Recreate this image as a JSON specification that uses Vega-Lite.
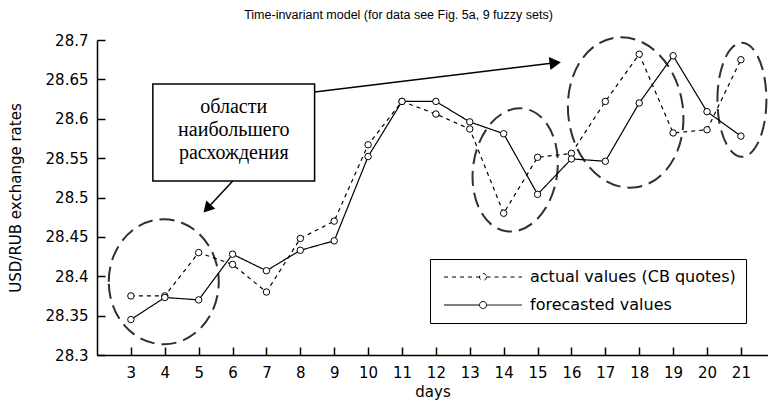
{
  "$schema": "https://vega.github.io/schema/vega-lite/v6.json",
  "width": 671,
  "height": 315,
  "autosize": {"type": "none"},
  "padding": {"left": 97, "top": 40, "right": 0, "bottom": 52},
  "background": "white",
  "title": {
    "text": "Time-invariant model (for data see Fig. 5a, 9 fuzzy sets)",
    "font": "Liberation Sans",
    "fontSize": 12.5,
    "fontWeight": "normal",
    "color": "black",
    "anchor": "middle",
    "dx": -34,
    "baseline": "alphabetic",
    "offset": 2
  },
  "config": {
    "view": {"stroke": null},
    "axis": {
      "grid": false,
      "domainColor": "black",
      "domainWidth": 1.5,
      "tickColor": "black",
      "tickWidth": 1.5,
      "tickSize": -8,
      "labelFont": "DejaVu Sans",
      "labelFontSize": 15,
      "labelColor": "black",
      "titleFont": "DejaVu Sans",
      "titleFontSize": 15,
      "titleFontWeight": "normal",
      "titleColor": "black"
    }
  },
  "datasets": {
    "rates": [
      {"day": 3, "series": "actual values (CB quotes)", "value": 28.375},
      {"day": 4, "series": "actual values (CB quotes)", "value": 28.375},
      {"day": 5, "series": "actual values (CB quotes)", "value": 28.43},
      {"day": 6, "series": "actual values (CB quotes)", "value": 28.415},
      {"day": 7, "series": "actual values (CB quotes)", "value": 28.38},
      {"day": 8, "series": "actual values (CB quotes)", "value": 28.448},
      {"day": 9, "series": "actual values (CB quotes)", "value": 28.47},
      {"day": 10, "series": "actual values (CB quotes)", "value": 28.567},
      {"day": 11, "series": "actual values (CB quotes)", "value": 28.622},
      {"day": 12, "series": "actual values (CB quotes)", "value": 28.606},
      {"day": 13, "series": "actual values (CB quotes)", "value": 28.587},
      {"day": 14, "series": "actual values (CB quotes)", "value": 28.48},
      {"day": 15, "series": "actual values (CB quotes)", "value": 28.551},
      {"day": 16, "series": "actual values (CB quotes)", "value": 28.556},
      {"day": 17, "series": "actual values (CB quotes)", "value": 28.622},
      {"day": 18, "series": "actual values (CB quotes)", "value": 28.682},
      {"day": 19, "series": "actual values (CB quotes)", "value": 28.582},
      {"day": 20, "series": "actual values (CB quotes)", "value": 28.586},
      {"day": 21, "series": "actual values (CB quotes)", "value": 28.675},
      {"day": 3, "series": "forecasted values", "value": 28.345},
      {"day": 4, "series": "forecasted values", "value": 28.373},
      {"day": 5, "series": "forecasted values", "value": 28.37},
      {"day": 6, "series": "forecasted values", "value": 28.428},
      {"day": 7, "series": "forecasted values", "value": 28.407},
      {"day": 8, "series": "forecasted values", "value": 28.433},
      {"day": 9, "series": "forecasted values", "value": 28.445},
      {"day": 10, "series": "forecasted values", "value": 28.552},
      {"day": 11, "series": "forecasted values", "value": 28.622},
      {"day": 12, "series": "forecasted values", "value": 28.622},
      {"day": 13, "series": "forecasted values", "value": 28.596},
      {"day": 14, "series": "forecasted values", "value": 28.581},
      {"day": 15, "series": "forecasted values", "value": 28.504},
      {"day": 16, "series": "forecasted values", "value": 28.549},
      {"day": 17, "series": "forecasted values", "value": 28.546},
      {"day": 18, "series": "forecasted values", "value": 28.62},
      {"day": 19, "series": "forecasted values", "value": 28.68},
      {"day": 20, "series": "forecasted values", "value": 28.609},
      {"day": 21, "series": "forecasted values", "value": 28.578}
    ],
    "ellipses": [
      {"region": "days 3-5", "day": 3.97, "value": 28.393},
      {"region": "days 14-15", "day": 14.34, "value": 28.535},
      {"region": "days 16-19", "day": 17.6, "value": 28.608},
      {"region": "day 21", "day": 21.03, "value": 28.624}
    ],
    "noteBox": [
      {"day": 3.648, "day2": 8.421, "value": 28.644, "value2": 28.521}
    ],
    "noteText": [
      {"day": 6.035, "value": 28.615, "label": "области\nнаибольшего\nрасхождения"}
    ],
    "arrows": [
      {"arrow": "down-left", "day": 6.005, "value": 28.521, "day2": 5.251, "value2": 28.486},
      {"arrow": "right", "day": 8.421, "value": 28.634, "day2": 15.522, "value2": 28.671}
    ]
  },
  "encoding": {
    "x": {
      "field": "day",
      "type": "quantitative",
      "scale": {"domain": [2, 21.8], "nice": false, "zero": false},
      "axis": {
        "title": "days",
        "values": [3, 4, 5, 6, 7, 8, 9, 10, 11, 12, 13, 14, 15, 16, 17, 18, 19, 20, 21],
        "labelPadding": 18,
        "titlePadding": 4,
        "labelOverlap": false,
        "labelFlush": false
      }
    },
    "y": {
      "field": "value",
      "type": "quantitative",
      "scale": {"domain": [28.3, 28.7], "nice": false, "zero": false},
      "axis": {
        "title": "USD/RUB exchange rates",
        "values": [28.3, 28.35, 28.4, 28.45, 28.5, 28.55, 28.6, 28.65, 28.7],
        "format": ".4~r",
        "labelPadding": 17,
        "titlePadding": 22,
        "labelOverlap": false,
        "labelFlush": false
      }
    }
  },
  "layer": [
    {
      "data": {"name": "ellipses"},
      "transform": [{"filter": "datum.region === 'days 3-5'"}],
      "mark": {"type": "point", "shape": "M-0.88,0A0.88,1,0,1,1,0.88,0A0.88,1,0,1,1,-0.88,0Z", "size": 15625, "filled": false, "stroke": "#303030", "strokeWidth": 2, "strokeDash": [15, 7], "opacity": 1}
    },
    {
      "data": {"name": "ellipses"},
      "transform": [{"filter": "datum.region === 'days 14-15'"}],
      "mark": {"type": "point", "shape": "M-0.68,0A0.68,1,0,1,1,0.68,0A0.68,1,0,1,1,-0.68,0Z", "size": 15376, "angle": 8, "filled": false, "stroke": "#303030", "strokeWidth": 2, "strokeDash": [15, 7], "opacity": 1}
    },
    {
      "data": {"name": "ellipses"},
      "transform": [{"filter": "datum.region === 'days 16-19'"}],
      "mark": {"type": "point", "shape": "M-0.76,0A0.76,1,0,1,1,0.76,0A0.76,1,0,1,1,-0.76,0Z", "size": 22801, "angle": -8, "filled": false, "stroke": "#303030", "strokeWidth": 2, "strokeDash": [15, 7], "opacity": 1}
    },
    {
      "data": {"name": "ellipses"},
      "transform": [{"filter": "datum.region === 'day 21'"}],
      "mark": {"type": "point", "shape": "M-0.43,0A0.43,1,0,1,1,0.43,0A0.43,1,0,1,1,-0.43,0Z", "size": 12996, "filled": false, "stroke": "#303030", "strokeWidth": 2, "strokeDash": [15, 7], "opacity": 1}
    },
    {
      "data": {"name": "noteBox"},
      "mark": {"type": "rect", "fill": "white", "stroke": "black", "strokeWidth": 1.5},
      "encoding": {"x2": {"field": "day2"}, "y2": {"field": "value2"}}
    },
    {
      "data": {"name": "noteText"},
      "mark": {"type": "text", "font": "Liberation Serif", "fontSize": 20, "lineBreak": "\n", "lineHeight": 23, "align": "center", "baseline": "middle", "color": "black"},
      "encoding": {"text": {"field": "label"}}
    },
    {
      "data": {"name": "arrows"},
      "mark": {"type": "rule", "color": "black", "strokeWidth": 1.5},
      "encoding": {"x2": {"field": "day2"}, "y2": {"field": "value2"}}
    },
    {
      "data": {"name": "arrows"},
      "transform": [{"filter": "datum.arrow === 'down-left'"}],
      "mark": {"type": "point", "shape": "triangle-down", "size": 150, "angle": 43, "filled": true, "color": "black", "opacity": 1},
      "encoding": {"x": {"field": "day2", "type": "quantitative"}, "y": {"field": "value2", "type": "quantitative"}}
    },
    {
      "data": {"name": "arrows"},
      "transform": [{"filter": "datum.arrow === 'right'"}],
      "mark": {"type": "point", "shape": "triangle-right", "size": 170, "angle": 353, "filled": true, "color": "black", "opacity": 1},
      "encoding": {"x": {"field": "day2", "type": "quantitative"}, "y": {"field": "value2", "type": "quantitative"}}
    },
    {
      "data": {"name": "rates"},
      "mark": {"type": "line", "color": "black", "strokeWidth": 1.2},
      "encoding": {
        "strokeDash": {
          "field": "series",
          "type": "nominal",
          "scale": {"domain": ["actual values (CB quotes)", "forecasted values"], "range": [[4, 4], [1, 0]]},
          "legend": {
            "title": null,
            "orient": "none",
            "legendX": 333,
            "legendY": 219,
            "strokeColor": "black",
            "fillColor": "white",
            "padding": 10,
            "symbolType": "M-6.5,0H-0.583M0.583,0H6.5M0.583,0A0.583,0.583,0,1,1,-0.583,0A0.583,0.583,0,1,1,0.583,0Z",
            "symbolSize": 144,
            "symbolStrokeColor": "black",
            "symbolFillColor": "white",
            "symbolStrokeWidth": 1,
            "symbolOffset": 35,
            "labelOffset": 39,
            "labelFont": "DejaVu Sans",
            "labelFontSize": 16,
            "labelColor": "black",
            "labelLimit": 400,
            "rowPadding": 12
          }
        }
      }
    },
    {
      "data": {"name": "rates"},
      "mark": {"type": "point", "shape": "circle", "filled": true, "fill": "white", "stroke": "black", "strokeWidth": 1, "size": 42, "opacity": 1},
      "encoding": {"detail": {"field": "series", "type": "nominal"}}
    }
  ]
}
